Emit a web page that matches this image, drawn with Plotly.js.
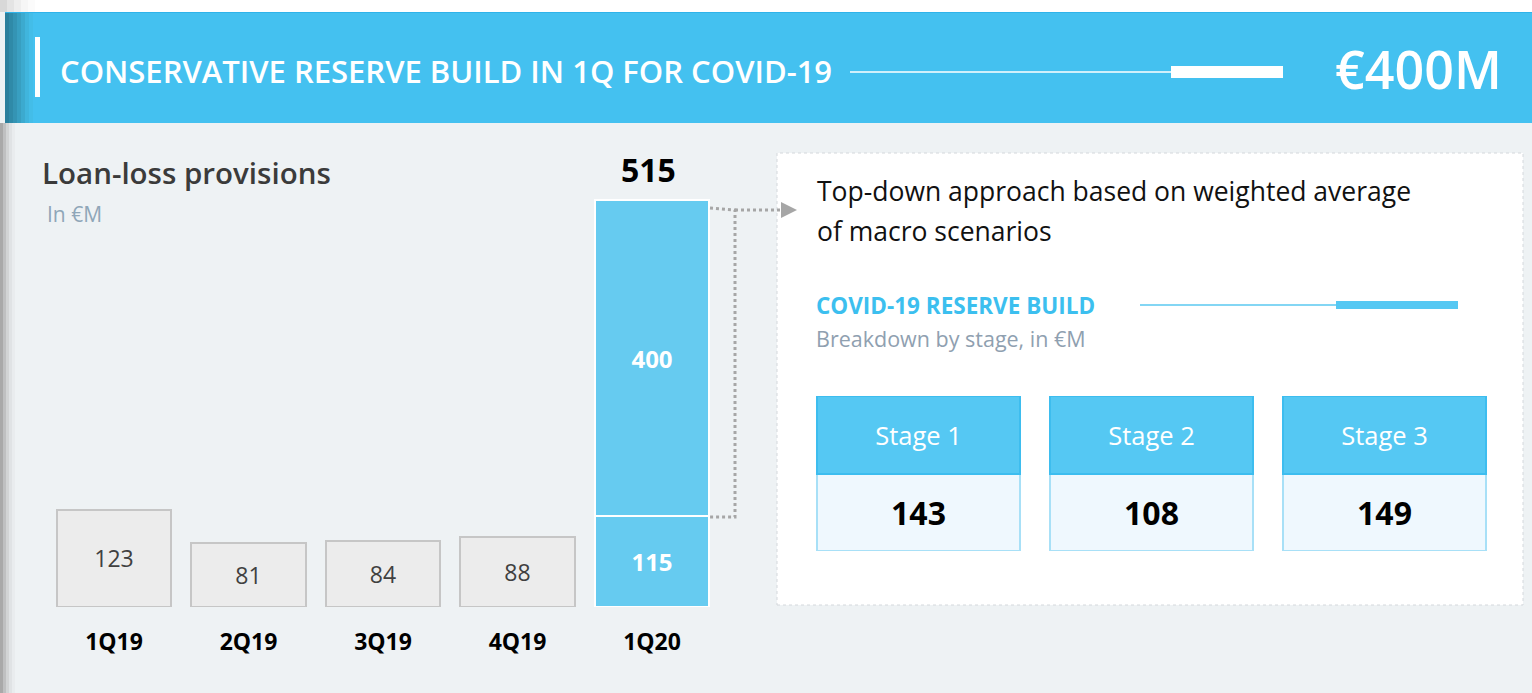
<!DOCTYPE html>
<html>
<head>
<meta charset="utf-8">
<script src="https://cdn.plot.ly/plotly-3.0.1.min.js"></script>
<style>
  html, body { margin: 0; padding: 0; background: #eef2f4; }
  #plot { width: 1532px; height: 693px; }
</style>
</head>
<body>
<div id="plot"></div>
<script>
// quarterly loan-loss provisions, in €M
const quarters = ['1Q19', '2Q19', '3Q19', '4Q19', '1Q20'];
const regularProv = [123, 81, 84, 88, null];
const baseProv = [null, null, null, null, 115];
const covidProv = [null, null, null, null, 400];

// covid reserve build by stage
const stageNames = ['Stage 1', 'Stage 2', 'Stage 3'];
const stageValues = [143, 108, 149];

const W = 1532, H = 693;
const px = v => v / W;
const py = v => 1 - v / H;
const FONT = 'Open Sans, Noto Sans, sans-serif';

const total = baseProv[4] + covidProv[4];

const traces = [
  {
    type: 'bar', x: quarters, y: regularProv, width: 0.848,
    marker: {color: '#ececec', line: {color: '#c6c6c6', width: 2}},
    text: regularProv.map(v => v == null ? '' : String(v)),
    textposition: 'inside', insidetextanchor: 'middle',
    textfont: {family: FONT, size: 23, color: '#404040'},
    hoverinfo: 'skip'
  },
  {
    type: 'bar', x: quarters, y: baseProv, width: 0.848,
    marker: {color: '#66cbf0', line: {color: '#ffffff', width: 2}},
    text: baseProv.map(v => v == null ? '' : String(v)),
    textposition: 'inside', insidetextanchor: 'middle',
    textfont: {family: FONT, size: 24, color: '#ffffff', weight: 700},
    hoverinfo: 'skip'
  },
  {
    type: 'bar', x: quarters, y: covidProv, width: 0.848,
    marker: {color: '#66cbf0', line: {color: '#ffffff', width: 2}},
    text: covidProv.map(v => v == null ? '' : String(v)),
    textposition: 'inside', insidetextanchor: 'middle',
    textfont: {family: FONT, size: 24, color: '#ffffff', weight: 700},
    hoverinfo: 'skip'
  },
  // stage cells: value row at the bottom, name row stacked on top
  {
    type: 'bar', x: stageNames, y: stageNames.map(() => 1), width: 0.871,
    xaxis: 'x2', yaxis: 'y2',
    marker: {color: '#eff8fe', line: {color: '#a8e0f7', width: 2}},
    text: stageValues.map(String),
    textposition: 'inside', insidetextanchor: 'middle',
    textfont: {family: FONT, size: 32, color: '#000000', weight: 700},
    hoverinfo: 'skip'
  },
  {
    type: 'bar', x: stageNames, y: stageNames.map(() => 1), width: 0.871,
    xaxis: 'x2', yaxis: 'y2',
    marker: {color: '#55c8f3', line: {color: '#3dbdef', width: 2}},
    text: stageNames,
    textposition: 'inside', insidetextanchor: 'middle',
    textfont: {family: FONT, size: 25.5, color: '#ffffff'},
    hoverinfo: 'skip'
  }
];

const shapes = [
  // white strip above header
  {type: 'rect', xref: 'paper', yref: 'paper', x0: 0, x1: 1, y0: py(12), y1: 1, fillcolor: '#ffffff', line: {width: 0}, layer: 'below'},
  // header band
  {type: 'rect', xref: 'paper', yref: 'paper', x0: px(5), x1: 1, y0: py(123), y1: py(12), fillcolor: '#44c1f0', line: {width: 0}, layer: 'below'},
  {type: 'line', xref: 'paper', yref: 'paper', x0: px(5), x1: 1, y0: py(12.5), y1: py(12.5), line: {color: '#2fb3ea', width: 1}, layer: 'below'},
  // white panel on the right
  {type: 'rect', xref: 'paper', yref: 'paper', x0: px(777), x1: px(1523), y0: py(605), y1: py(153), fillcolor: '#ffffff', line: {color: '#d4d8dc', width: 1, dash: 'dot'}, layer: 'below'},
  // header accent bar
  {type: 'rect', xref: 'paper', yref: 'paper', x0: px(35), x1: px(40), y0: py(97), y1: py(37), fillcolor: '#ffffff', line: {width: 0}},
  // header rule
  {type: 'line', xref: 'paper', yref: 'paper', x0: px(850), x1: px(1172), y0: py(72), y1: py(72), line: {color: '#ffffff', width: 1.5}},
  {type: 'rect', xref: 'paper', yref: 'paper', x0: px(1171), x1: px(1283), y0: py(78), y1: py(66), fillcolor: '#ffffff', line: {width: 0}},
  // panel rule
  {type: 'line', xref: 'paper', yref: 'paper', x0: px(1140), x1: px(1337), y0: py(305), y1: py(305), line: {color: '#5ac8f0', width: 1.5}},
  {type: 'rect', xref: 'paper', yref: 'paper', x0: px(1336), x1: px(1458), y0: py(309), y1: py(301), fillcolor: '#55c8f3', line: {width: 0}},
  // dotted bracket from the 1Q20 bar
  {type: 'path', xref: 'paper', yref: 'paper',
   path: `M ${px(710)} ${py(208)} L ${px(735)} ${py(210)} L ${px(735)} ${py(517)} L ${px(710)} ${py(517)}`,
   line: {color: '#a6a6a6', width: 3, dash: 'dot'}},
  {type: 'line', xref: 'paper', yref: 'paper', x0: px(735), x1: px(781), y0: py(210), y1: py(210), line: {color: '#a6a6a6', width: 3, dash: 'dot'}},
  {type: 'path', xref: 'paper', yref: 'paper',
   path: `M ${px(781)} ${py(202)} L ${px(797)} ${py(210)} L ${px(781)} ${py(218)} Z`,
   fillcolor: '#a6a6a6', line: {width: 0}}
];

// left edge shading of the header and of the page
const darkSteps = ['#2b7f9c', '#2f8aa8', '#3494b4', '#389fc1', '#3caacf', '#40b5dd', '#43bde8'];
darkSteps.forEach((c, i) => {
  shapes.push({type: 'rect', xref: 'paper', yref: 'paper', x0: px(5 + i * 4), x1: px(9 + i * 4), y0: py(123), y1: py(13), fillcolor: c, line: {width: 0}, layer: 'below'});
});
const greySteps = ['#a9a9a9', '#bfc0c1', '#d2d4d5', '#e0e3e5', '#e9ecee'];
greySteps.forEach((c, i) => {
  shapes.push({type: 'rect', xref: 'paper', yref: 'paper', x0: px(i * 3), x1: px(3 + i * 3), y0: 0, y1: py(123), fillcolor: c, line: {width: 0}, layer: 'below'});
  shapes.push({type: 'rect', xref: 'paper', yref: 'paper', x0: px(i * 7), x1: px(7 + i * 7), y0: py(12), y1: 1, fillcolor: ['#d8d8d8', '#e4e4e4', '#eeeeee', '#f6f6f6', '#fbfbfb'][i], line: {width: 0}, layer: 'below'});
});

const ann = (text, x, y, size, color, extra) => Object.assign({
  text: text, xref: 'paper', yref: 'paper', x: px(x), y: py(y),
  xanchor: 'left', yanchor: 'middle', showarrow: false,
  font: {family: FONT, size: size, color: color}
}, extra || {});

const annotations = [
  ann('CONSERVATIVE RESERVE BUILD IN 1Q FOR COVID-19', 58, 71, 31, '#ffffff', {font: {family: FONT, size: 31, color: '#ffffff', weight: 600}}),
  ann('€400M', 1504, 69, 52, '#ffffff', {xanchor: 'right', font: {family: FONT, size: 52, color: '#ffffff', weight: 600}}),
  ann('Loan-loss provisions', 40, 172, 29.5, '#3b3b3b', {font: {family: FONT, size: 29.5, color: '#3b3b3b', weight: 600}}),
  ann('In €M', 45, 214, 21, '#8fa6b8'),
  ann('Top-down approach based on weighted average', 815, 191, 26.5, '#111111'),
  ann('of macro scenarios', 815, 231, 26.5, '#111111'),
  ann('COVID-19 RESERVE BUILD', 814, 305, 22.5, '#3cbfef', {font: {family: FONT, size: 22.5, color: '#3cbfef', weight: 700}}),
  ann('Breakdown by stage, in €M', 814, 338, 21.5, '#8fa0b0'),
  {
    text: String(total), x: quarters[4], y: total, xref: 'x', yref: 'y',
    yanchor: 'bottom', yshift: 7, xshift: -4, showarrow: false,
    font: {family: FONT, size: 32, color: '#000000', weight: 700}
  }
];

const layout = {
  width: W, height: H,
  margin: {l: 0, r: 0, t: 0, b: 0},
  paper_bgcolor: '#eef2f4', plot_bgcolor: 'rgba(0,0,0,0)',
  barmode: 'stack', showlegend: false,
  xaxis: {
    domain: [px(46.75), px(719.25)], range: [-0.5, 4.5],
    showgrid: false, zeroline: false, showline: false, ticks: '',
    ticklabelstandoff: 19,
    tickfont: {family: FONT, size: 23, color: '#000000', weight: 700},
    fixedrange: true
  },
  yaxis: {
    domain: [86 / H, (86 + 474) / H], range: [0, 600],
    visible: false, fixedrange: true
  },
  xaxis2: {
    anchor: 'y2', domain: [px(802), px(1501)], range: [-0.5, 2.5],
    visible: false, fixedrange: true
  },
  yaxis2: {
    anchor: 'x2', domain: [142 / H, 297 / H], range: [0, 2],
    visible: false, fixedrange: true
  },
  shapes: shapes,
  annotations: annotations
};

Plotly.newPlot('plot', traces, layout, {staticPlot: true, displayModeBar: false});
</script>
</body>
</html>
